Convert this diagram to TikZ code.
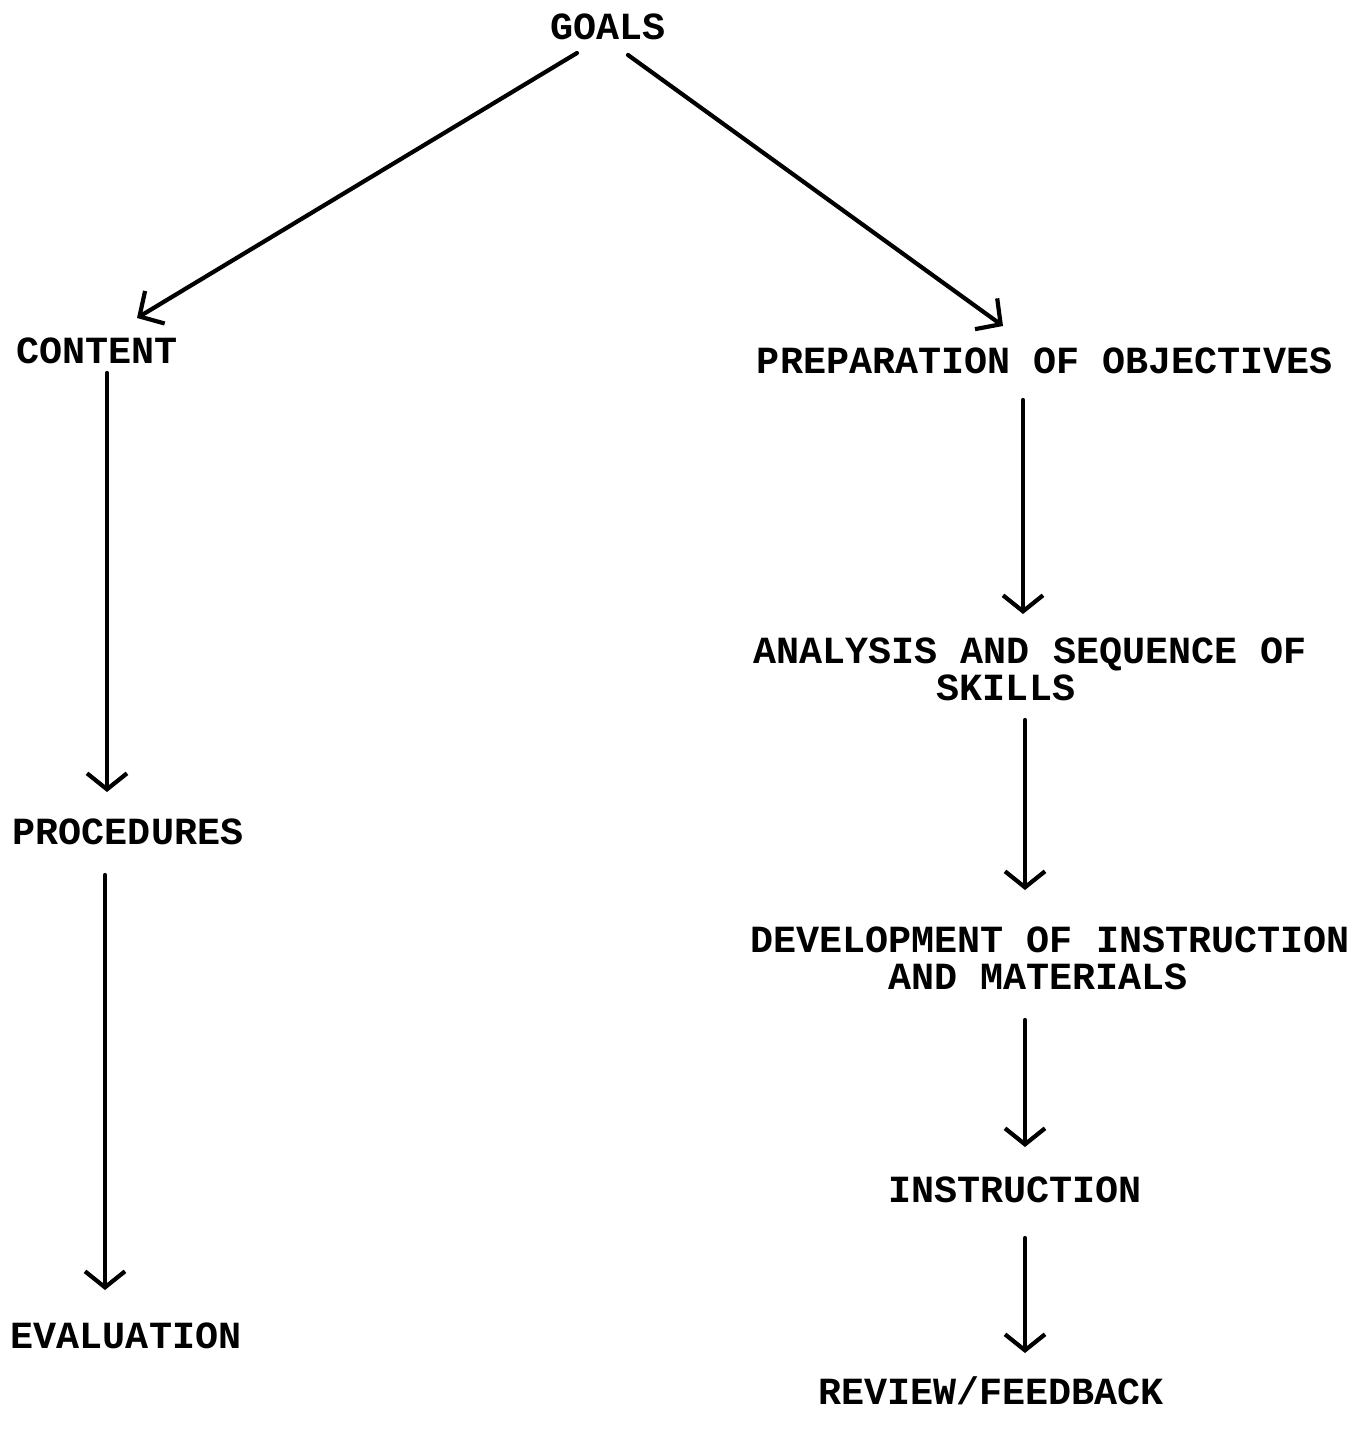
\documentclass[tikz,border=0pt]{standalone}
\usepackage{fontspec}
\setmonofont{Liberation Mono}
\usetikzlibrary{arrows.meta}
\begin{document}
\begin{tikzpicture}[x=0.5pt,y=-0.5pt,
  lbl/.style={inner sep=0pt,align=center,font=\ttfamily\bfseries\fontsize{19.2}{18.5}\selectfont},
  arr/.style={line width=2.1pt,line cap=round,-{Straight Barb[length=8pt,width=20pt,line width=2.1pt]}},
  arrd/.style={line width=2.1pt,line cap=round,-{Straight Barb[length=9pt,width=19pt,line width=2.1pt]}}]
\useasboundingbox (0,0) rectangle (1367,1440);
\node[lbl] (goals) at (608,27) {GOALS};
\node[lbl] (content) at (97,351) {CONTENT};
\node[lbl] (proc) at (128,832) {PROCEDURES};
\node[lbl] (eval) at (126,1336) {EVALUATION};
\node[lbl] (prep) at (1045,361) {PREPARATION OF OBJECTIVES};
\node[lbl] (anal) at (1030,669) {ANALYSIS AND SEQUENCE OF\\SKILLS\hspace*{24pt}};
\node[lbl] (dev) at (1050,958) {DEVELOPMENT OF INSTRUCTION\\AND MATERIALS\hspace*{12pt}};
\node[lbl] (instr) at (1015,1190) {INSTRUCTION};
\node[lbl] (review) at (991,1391) {REVIEW/FEEDBACK};
\draw[arrd] ([shift={(-31,26)}]goals.center) -- ([shift={(40,-33)}]content.center);
\draw[arrd] ([shift={(20,28)}]goals.center) -- ([shift={(-42,-35)}]prep.center);
\draw[arr] ([shift={(10,22)}]content.center) -- ([shift={(-21,-40)}]proc.center);
\draw[arr] ([shift={(-23,43)}]proc.center) -- ([shift={(-21,-46)}]eval.center);
\draw[arr] ([shift={(-22,39)}]prep.center) -- ([shift={(-7,-55)}]anal.center);
\draw[arr] ([shift={(-5,51)}]anal.center) -- ([shift={(-25,-68)}]dev.center);
\draw[arr] ([shift={(-25,62)}]dev.center) -- ([shift={(10,-43)}]instr.center);
\draw[arr] ([shift={(10,48)}]instr.center) -- ([shift={(34,-38)}]review.center);
\end{tikzpicture}
\end{document}
